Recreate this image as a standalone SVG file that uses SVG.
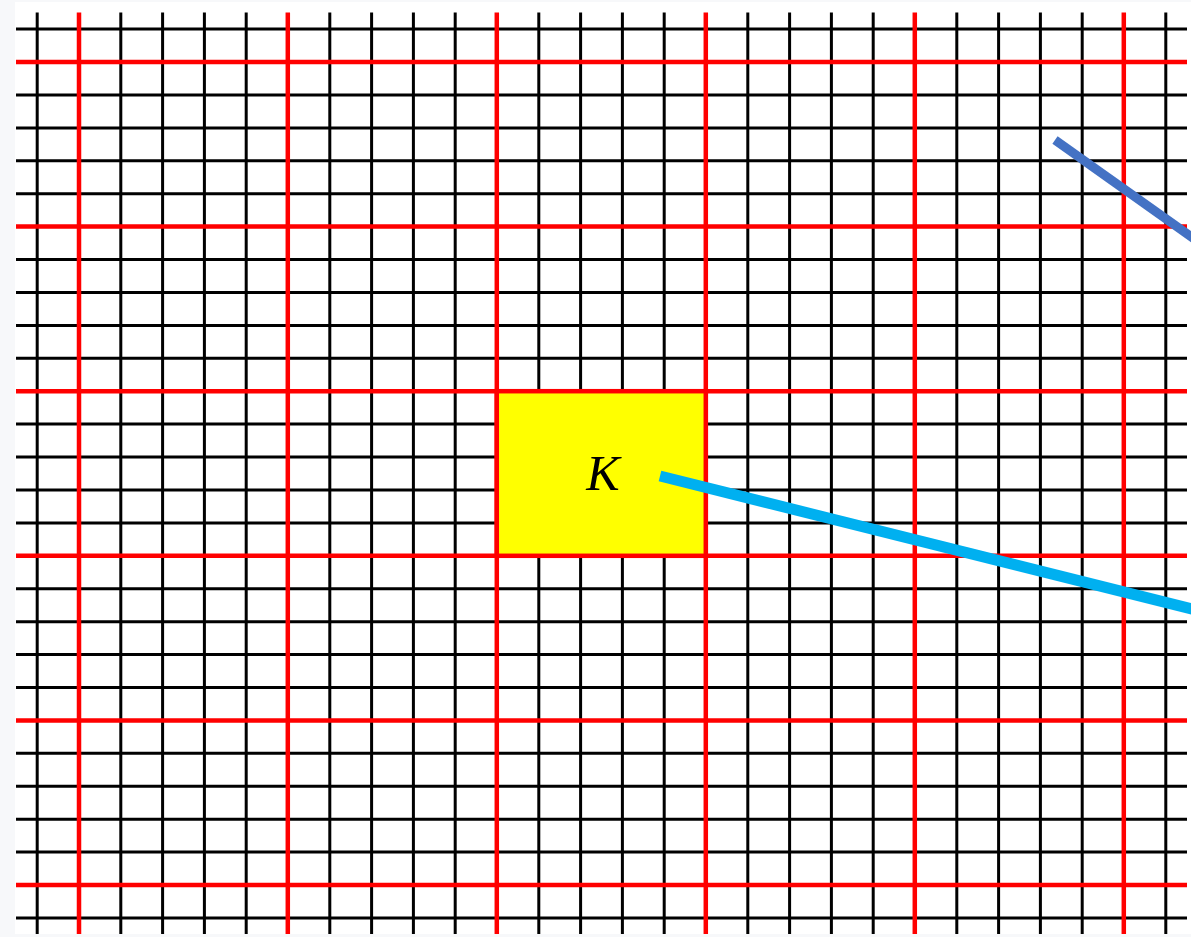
<svg xmlns="http://www.w3.org/2000/svg" width="1191" height="937" viewBox="0 0 1191 937">
<style>
.bk{stroke:#000;stroke-width:3;fill:none}
.rd{stroke:#ff0000;stroke-width:4.5;fill:none}
.lbl{font-family:"Liberation Serif","DejaVu Serif",serif;font-style:italic;font-size:50px;fill:#000}
</style>
<rect x="0" y="0" width="1191" height="937" fill="#f7f8fa"/>
<rect x="15" y="2" width="1176" height="932" fill="#ffffff"/>
<g id="grid">
<path class="bk" d="M37.2 12.6V934M120.8 12.6V934M162.6 12.6V934M204.4 12.6V934M246.2 12.6V934M329.8 12.6V934M371.6 12.6V934M413.4 12.6V934M455.2 12.6V934M538.8 12.6V934M580.6 12.6V934M622.4 12.6V934M664.2 12.6V934M747.8 12.6V934M789.6 12.6V934M831.4 12.6V934M873.2 12.6V934M956.8 12.6V934M998.6 12.6V934M1040.4 12.6V934M1082.2 12.6V934M1165.8 12.6V934"/>
<path class="bk" d="M16 29.1H1187M16 94.9H1187M16 127.9H1187M16 160.8H1187M16 193.7H1187M16 259.5H1187M16 292.5H1187M16 325.4H1187M16 358.3H1187M16 424.1H1187M16 457.1H1187M16 490H1187M16 522.9H1187M16 588.7H1187M16 621.7H1187M16 654.6H1187M16 687.5H1187M16 753.3H1187M16 786.3H1187M16 819.2H1187M16 852.1H1187M16 917.9H1187"/>
<path class="rd" d="M79 12.6V934M287.8 12.6V934M496.8 12.6V934M705.8 12.6V934M914.8 12.6V934M1123.8 12.6V934"/>
<path class="rd" d="M16 62H1187M16 226.6H1187M16 391.2H1187M16 555.8H1187M16 720.4H1187M16 885H1187"/>
</g>
<g id="K">
<rect x="496.8" y="391.2" width="209" height="164.6" fill="#ffff00" stroke="#ff0000" stroke-width="4.5"/>
<text class="lbl" x="603" y="490" text-anchor="middle">K</text>
</g>
<g id="connectors">
<line x1="660" y1="476" x2="1200" y2="611" stroke="#00b0f0" stroke-width="11"/>
<line x1="1055" y1="140" x2="1200" y2="243" stroke="#4472c4" stroke-width="9"/>
</g>
</svg>
